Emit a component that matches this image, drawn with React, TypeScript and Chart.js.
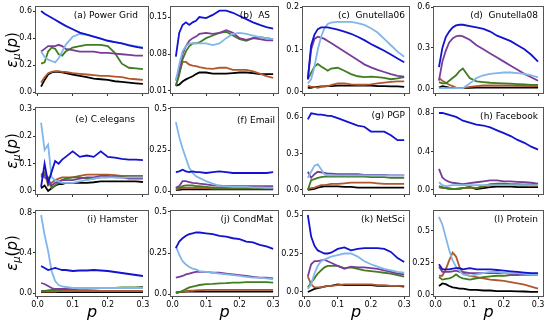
import React, { useEffect, useRef } from 'react';
import { Chart, registerables } from 'chart.js';

Chart.register(...registerables);
Chart.defaults.font.family = "'DejaVu Sans', sans-serif";

// sampled p values
const P = [0.01, 0.02, 0.03, 0.04, 0.05, 0.06, 0.07, 0.08, 0.10, 0.12, 0.14, 0.16, 0.18, 0.20, 0.22, 0.24, 0.26, 0.28, 0.30];
const X_TICKS = [0, 0.1, 0.2, 0.3];
const X_LABELS = ['0.0', '0.1', '0.2', '0.3'];

// (a) Power Grid
const A_BLUE = [0.6, 0.58, 0.565, 0.55, 0.535, 0.52, 0.505, 0.49, 0.465, 0.44, 0.425, 0.41, 0.395, 0.38, 0.37, 0.36, 0.345, 0.335, 0.325];
const A_LIGHT = [0.3, 0.26, 0.24, 0.23, 0.22, 0.25, 0.3, 0.35, 0.41, 0.43, 0.425, 0.41, 0.395, 0.38, 0.37, 0.36, 0.35, 0.34, 0.33];
const A_PURPLE = [0.3, 0.32, 0.34, 0.34, 0.34, 0.35, 0.34, 0.32, 0.31, 0.3, 0.3, 0.3, 0.29, 0.29, 0.285, 0.28, 0.275, 0.27, 0.27];
const A_GREEN = [0.21, 0.22, 0.3, 0.33, 0.32, 0.28, 0.27, 0.3, 0.33, 0.34, 0.35, 0.35, 0.35, 0.34, 0.29, 0.21, 0.18, 0.175, 0.17];
const A_BROWN = [0.07, 0.11, 0.14, 0.15, 0.155, 0.155, 0.15, 0.15, 0.14, 0.135, 0.13, 0.125, 0.12, 0.12, 0.115, 0.11, 0.1, 0.095, 0.09];
const A_BLACK = [0.04, 0.09, 0.13, 0.145, 0.15, 0.15, 0.145, 0.14, 0.13, 0.12, 0.11, 0.1, 0.095, 0.09, 0.08, 0.075, 0.07, 0.065, 0.06];
const A_YT = [0, 0.2, 0.4, 0.6];
const A_YL = ['0.0', '0.2', '0.4', '0.6'];

// (b) AS
const B_BLUE = [0.075, 0.12, 0.135, 0.14, 0.135, 0.14, 0.143, 0.15, 0.148, 0.154, 0.162, 0.162, 0.158, 0.152, 0.146, 0.14, 0.135, 0.131, 0.128];
const B_LIGHT = [0.03, 0.06, 0.085, 0.095, 0.1, 0.1, 0.1, 0.1, 0.1, 0.097, 0.1, 0.11, 0.118, 0.12, 0.118, 0.115, 0.112, 0.11, 0.108];
const B_PURPLE = [0.03, 0.05, 0.08, 0.095, 0.105, 0.11, 0.113, 0.118, 0.12, 0.118, 0.12, 0.125, 0.12, 0.11, 0.107, 0.11, 0.108, 0.106, 0.106];
const B_GREEN = [0.02, 0.04, 0.07, 0.085, 0.095, 0.1, 0.1, 0.102, 0.11, 0.115, 0.12, 0.122, 0.115, 0.108, 0.105, 0.11, 0.112, 0.11, 0.108];
const B_BROWN = [0.02, 0.045, 0.065, 0.065, 0.06, 0.058, 0.057, 0.055, 0.053, 0.052, 0.054, 0.054, 0.05, 0.05, 0.05, 0.047, 0.043, 0.038, 0.035];
const B_BLACK = [0.02, 0.022, 0.028, 0.032, 0.035, 0.038, 0.042, 0.045, 0.045, 0.043, 0.043, 0.043, 0.044, 0.045, 0.045, 0.044, 0.042, 0.042, 0.042];
const B_YT = [0.01, 0.08, 0.15];
const B_YL = ['0.01', '0.08', '0.15'];

// (c) Gnutella06
const C_BLUE = [0.03, 0.11, 0.135, 0.148, 0.152, 0.152, 0.152, 0.15, 0.147, 0.142, 0.137, 0.13, 0.122, 0.113, 0.105, 0.097, 0.088, 0.079, 0.07];
const C_LIGHT = [0.02, 0.03, 0.06, 0.1, 0.13, 0.15, 0.16, 0.163, 0.165, 0.165, 0.165, 0.162, 0.158, 0.15, 0.14, 0.125, 0.11, 0.095, 0.083];
const C_PURPLE = [0.03, 0.1, 0.125, 0.13, 0.128, 0.125, 0.12, 0.115, 0.105, 0.095, 0.085, 0.075, 0.065, 0.058, 0.052, 0.047, 0.042, 0.038, 0.036];
const C_GREEN = [0.03, 0.045, 0.06, 0.066, 0.06, 0.055, 0.05, 0.055, 0.057, 0.05, 0.042, 0.037, 0.035, 0.036, 0.035, 0.033, 0.03, 0.032, 0.035];
const C_BROWN = [0.015, 0.012, 0.012, 0.01, 0.012, 0.013, 0.014, 0.016, 0.02, 0.02, 0.018, 0.017, 0.017, 0.018, 0.02, 0.022, 0.024, 0.025, 0.025];
const C_BLACK = [0.01, 0.01, 0.012, 0.012, 0.013, 0.013, 0.014, 0.014, 0.015, 0.015, 0.015, 0.015, 0.015, 0.015, 0.014, 0.014, 0.013, 0.013, 0.012];
const C_YT = [0, 0.1, 0.2];
const C_YL = ['0.0', '0.1', '0.2'];

// (d) Gnutella08
const D_BLUE = [0.16, 0.3, 0.38, 0.42, 0.45, 0.465, 0.47, 0.47, 0.46, 0.45, 0.44, 0.42, 0.39, 0.37, 0.35, 0.32, 0.29, 0.25, 0.2];
const D_LIGHT = [0.005, 0.005, 0.005, 0.005, 0.005, 0.005, 0.005, 0.005, 0.04, 0.08, 0.1, 0.11, 0.115, 0.12, 0.12, 0.115, 0.11, 0.1, 0.085];
const D_PURPLE = [0.06, 0.2, 0.28, 0.34, 0.37, 0.385, 0.39, 0.385, 0.36, 0.32, 0.29, 0.26, 0.23, 0.2, 0.17, 0.14, 0.11, 0.085, 0.06];
const D_GREEN = [0.05, 0.04, 0.04, 0.06, 0.08, 0.1, 0.13, 0.15, 0.08, 0.055, 0.05, 0.045, 0.043, 0.04, 0.038, 0.035, 0.033, 0.03, 0.03];
const D_BROWN = [0.08, 0.06, 0.045, 0.03, 0.02, 0.01, 0.005, 0.005, 0.015, 0.02, 0.025, 0.025, 0.025, 0.025, 0.025, 0.023, 0.022, 0.02, 0.02];
const D_BLACK = [0.01, 0.02, 0.015, 0.01, 0.008, 0.005, 0.005, 0.005, 0.008, 0.01, 0.01, 0.01, 0.01, 0.01, 0.01, 0.01, 0.01, 0.01, 0.01];
const D_YT = [0, 0.3, 0.6];
const D_YL = ['0.0', '0.3', '0.6'];

// (e) C.elegans
const E_BLUE = [0.015, 0.1, 0.03, 0.07, 0.11, 0.1, 0.115, 0.125, 0.145, 0.125, 0.13, 0.125, 0.145, 0.125, 0.122, 0.118, 0.115, 0.115, 0.113];
const E_LIGHT = [0.25, 0.15, 0.17, 0.05, 0.04, 0.035, 0.03, 0.03, 0.03, 0.035, 0.04, 0.045, 0.05, 0.05, 0.05, 0.048, 0.05, 0.05, 0.05];
const E_PURPLE = [0.06, 0.05, 0.04, 0.02, 0.03, 0.035, 0.04, 0.04, 0.04, 0.045, 0.05, 0.05, 0.055, 0.055, 0.05, 0.05, 0.045, 0.045, 0.045];
const E_GREEN = [0.05, 0.06, 0.05, 0.01, 0.02, 0.03, 0.04, 0.045, 0.05, 0.05, 0.045, 0.045, 0.05, 0.05, 0.055, 0.05, 0.05, 0.05, 0.05];
const E_BROWN = [0.06, 0.07, 0.02, 0.03, 0.04, 0.045, 0.05, 0.05, 0.05, 0.055, 0.06, 0.06, 0.06, 0.06, 0.058, 0.055, 0.055, 0.055, 0.055];
const E_BLACK = [0.01, 0.02, 0.0, 0.01, 0.02, 0.025, 0.025, 0.03, 0.03, 0.03, 0.03, 0.032, 0.035, 0.035, 0.035, 0.035, 0.035, 0.035, 0.033];
const E_YT = [0, 0.1, 0.2, 0.3];
const E_YL = ['0.0', '0.1', '0.2', '0.3'];

// (f) Email
const F_BLUE = [0.115, 0.12, 0.13, 0.12, 0.115, 0.12, 0.115, 0.115, 0.11, 0.115, 0.12, 0.115, 0.11, 0.11, 0.11, 0.11, 0.11, 0.11, 0.115];
const F_LIGHT = [0.42, 0.33, 0.26, 0.2, 0.14, 0.11, 0.09, 0.08, 0.06, 0.045, 0.032, 0.028, 0.025, 0.025, 0.025, 0.022, 0.022, 0.02, 0.02];
const F_PURPLE = [0.02, 0.03, 0.06, 0.06, 0.055, 0.05, 0.048, 0.045, 0.04, 0.035, 0.033, 0.03, 0.03, 0.03, 0.03, 0.03, 0.03, 0.03, 0.03];
const F_GREEN = [0.02, 0.02, 0.03, 0.035, 0.035, 0.035, 0.03, 0.03, 0.025, 0.02, 0.02, 0.02, 0.02, 0.02, 0.02, 0.02, 0.02, 0.02, 0.02];
const F_BROWN = [0.01, 0.015, 0.02, 0.02, 0.02, 0.02, 0.02, 0.02, 0.018, 0.015, 0.015, 0.015, 0.015, 0.015, 0.015, 0.015, 0.015, 0.015, 0.015];
const F_BLACK = [0.005, 0.008, 0.01, 0.01, 0.01, 0.01, 0.01, 0.01, 0.01, 0.01, 0.01, 0.01, 0.01, 0.01, 0.01, 0.01, 0.01, 0.01, 0.01];
const F_YT = [0, 0.25, 0.5];
const F_YL = ['0.0', '0.25', '0.5'];

// (g) PGP
const G_BLUE = [0.58, 0.63, 0.625, 0.62, 0.62, 0.615, 0.61, 0.61, 0.59, 0.57, 0.55, 0.53, 0.52, 0.48, 0.48, 0.48, 0.45, 0.41, 0.41];
const G_LIGHT = [0.1, 0.15, 0.2, 0.21, 0.17, 0.13, 0.12, 0.12, 0.12, 0.12, 0.12, 0.12, 0.12, 0.12, 0.12, 0.12, 0.12, 0.12, 0.12];
const G_PURPLE = [0.15, 0.1, 0.13, 0.15, 0.145, 0.14, 0.135, 0.135, 0.13, 0.13, 0.13, 0.13, 0.125, 0.125, 0.125, 0.125, 0.12, 0.12, 0.12];
const G_GREEN = [0.0, 0.08, 0.09, 0.1, 0.105, 0.11, 0.11, 0.11, 0.11, 0.11, 0.11, 0.11, 0.11, 0.105, 0.105, 0.105, 0.1, 0.1, 0.1];
const G_BROWN = [0.01, 0.015, 0.02, 0.03, 0.04, 0.04, 0.045, 0.05, 0.05, 0.055, 0.06, 0.06, 0.06, 0.06, 0.055, 0.05, 0.05, 0.05, 0.05];
const G_BLACK = [0.0, 0.005, 0.01, 0.02, 0.025, 0.03, 0.03, 0.03, 0.03, 0.025, 0.025, 0.02, 0.02, 0.02, 0.02, 0.02, 0.02, 0.02, 0.02];
const G_YT = [0, 0.3, 0.6];
const G_YL = ['0.0', '0.3', '0.6'];

// (h) Facebook
const H_BLUE = [0.8, 0.8, 0.79, 0.78, 0.77, 0.76, 0.74, 0.72, 0.7, 0.68, 0.67, 0.65, 0.62, 0.59, 0.56, 0.52, 0.49, 0.45, 0.42];
const H_LIGHT = [0.08, 0.05, 0.04, 0.045, 0.05, 0.05, 0.05, 0.05, 0.05, 0.05, 0.05, 0.05, 0.05, 0.05, 0.05, 0.05, 0.05, 0.05, 0.05];
const H_PURPLE = [0.22, 0.13, 0.1, 0.085, 0.075, 0.07, 0.065, 0.06, 0.07, 0.08, 0.09, 0.1, 0.1, 0.09, 0.09, 0.085, 0.08, 0.075, 0.065];
const H_GREEN = [0.04, 0.03, 0.02, 0.015, 0.01, 0.01, 0.015, 0.02, 0.03, 0.02, 0.04, 0.06, 0.065, 0.065, 0.06, 0.06, 0.055, 0.055, 0.05];
const H_BROWN = [0.03, 0.025, 0.02, 0.015, 0.01, 0.01, 0.015, 0.02, 0.025, 0.02, 0.035, 0.05, 0.055, 0.055, 0.05, 0.05, 0.05, 0.045, 0.045];
const H_BLACK = [0.03, 0.025, 0.02, 0.015, 0.01, 0.01, 0.015, 0.02, 0.03, 0.01, 0.02, 0.03, 0.035, 0.035, 0.035, 0.03, 0.03, 0.03, 0.03];
const H_YT = [0, 0.4, 0.8];
const H_YL = ['0.0', '0.4', '0.8'];

// (i) Hamster
const I_BLUE = [0.27, 0.25, 0.23, 0.24, 0.25, 0.24, 0.23, 0.23, 0.22, 0.225, 0.225, 0.23, 0.225, 0.22, 0.21, 0.2, 0.19, 0.18, 0.17];
const I_LIGHT = [0.78, 0.58, 0.42, 0.22, 0.12, 0.08, 0.065, 0.06, 0.05, 0.05, 0.05, 0.05, 0.05, 0.05, 0.05, 0.05, 0.05, 0.05, 0.05];
const I_PURPLE = [0.1, 0.09, 0.07, 0.05, 0.04, 0.04, 0.04, 0.04, 0.04, 0.045, 0.045, 0.045, 0.05, 0.05, 0.05, 0.05, 0.05, 0.05, 0.055];
const I_GREEN = [0.02, 0.02, 0.025, 0.03, 0.03, 0.035, 0.035, 0.04, 0.04, 0.045, 0.045, 0.05, 0.05, 0.05, 0.05, 0.055, 0.055, 0.055, 0.06];
const I_BROWN = [0.015, 0.015, 0.015, 0.015, 0.015, 0.02, 0.02, 0.02, 0.02, 0.02, 0.02, 0.02, 0.02, 0.02, 0.02, 0.02, 0.02, 0.02, 0.02];
const I_BLACK = [0.01, 0.01, 0.01, 0.01, 0.01, 0.01, 0.01, 0.01, 0.01, 0.01, 0.01, 0.01, 0.01, 0.01, 0.01, 0.01, 0.01, 0.01, 0.01];
const I_YT = [0, 0.4, 0.8];
const I_YL = ['0.0', '0.4', '0.8'];

// (j) CondMat
const J_BLUE = [0.28, 0.32, 0.34, 0.355, 0.365, 0.37, 0.375, 0.375, 0.37, 0.365, 0.355, 0.35, 0.34, 0.335, 0.32, 0.315, 0.3, 0.29, 0.275];
const J_LIGHT = [0.29, 0.24, 0.2, 0.18, 0.165, 0.155, 0.15, 0.14, 0.135, 0.13, 0.125, 0.12, 0.115, 0.11, 0.105, 0.1, 0.1, 0.095, 0.09];
const J_PURPLE = [0.1, 0.105, 0.11, 0.12, 0.125, 0.13, 0.135, 0.135, 0.135, 0.13, 0.13, 0.125, 0.12, 0.115, 0.11, 0.105, 0.1, 0.1, 0.095];
const J_GREEN = [0.005, 0.01, 0.02, 0.03, 0.04, 0.045, 0.05, 0.055, 0.06, 0.062, 0.065, 0.067, 0.07, 0.07, 0.072, 0.073, 0.073, 0.072, 0.07];
const J_BROWN = [0.01, 0.012, 0.015, 0.017, 0.02, 0.02, 0.022, 0.023, 0.025, 0.025, 0.025, 0.025, 0.025, 0.025, 0.025, 0.025, 0.025, 0.025, 0.025];
const J_BLACK = [0.01, 0.012, 0.013, 0.015, 0.015, 0.015, 0.015, 0.015, 0.015, 0.015, 0.015, 0.015, 0.015, 0.015, 0.015, 0.015, 0.015, 0.015, 0.015];
const J_YT = [0, 0.25, 0.5];
const J_YL = ['0.0', '0.25', '0.5'];

// (k) NetSci
const K_BLUE = [0.5, 0.36, 0.3, 0.27, 0.26, 0.25, 0.25, 0.255, 0.28, 0.29, 0.27, 0.28, 0.285, 0.285, 0.285, 0.28, 0.26, 0.22, 0.195];
const K_LIGHT = [0.02, 0.05, 0.12, 0.17, 0.2, 0.21, 0.22, 0.23, 0.24, 0.25, 0.25, 0.23, 0.2, 0.18, 0.165, 0.15, 0.14, 0.13, 0.125];
const K_PURPLE = [0.1, 0.18, 0.2, 0.2, 0.205, 0.21, 0.2, 0.19, 0.17, 0.15, 0.165, 0.16, 0.16, 0.155, 0.15, 0.14, 0.13, 0.12, 0.115];
const K_GREEN = [0.03, 0.06, 0.09, 0.12, 0.14, 0.16, 0.17, 0.17, 0.17, 0.155, 0.16, 0.15, 0.14, 0.135, 0.13, 0.125, 0.12, 0.11, 0.1];
const K_BROWN = [0.1, 0.05, 0.03, 0.03, 0.03, 0.035, 0.04, 0.04, 0.045, 0.05, 0.05, 0.05, 0.05, 0.05, 0.045, 0.045, 0.04, 0.04, 0.04];
const K_BLACK = [0.0, 0.01, 0.02, 0.025, 0.03, 0.035, 0.04, 0.04, 0.05, 0.045, 0.045, 0.045, 0.045, 0.045, 0.04, 0.04, 0.04, 0.04, 0.035];
const K_YT = [0, 0.25, 0.5];
const K_YL = ['0.0', '0.25', '0.5'];

// (l) Protein
const L_BLUE = [0.24, 0.2, 0.2, 0.2, 0.205, 0.21, 0.21, 0.2, 0.21, 0.2, 0.2, 0.2, 0.195, 0.19, 0.185, 0.18, 0.175, 0.17, 0.17];
const L_LIGHT = [0.61, 0.55, 0.45, 0.35, 0.27, 0.22, 0.19, 0.16, 0.15, 0.16, 0.17, 0.18, 0.18, 0.17, 0.17, 0.17, 0.165, 0.16, 0.16];
const L_PURPLE = [0.22, 0.18, 0.18, 0.18, 0.185, 0.19, 0.18, 0.18, 0.17, 0.17, 0.17, 0.17, 0.17, 0.17, 0.165, 0.165, 0.16, 0.16, 0.16];
const L_GREEN = [0.14, 0.12, 0.125, 0.13, 0.14, 0.16, 0.14, 0.13, 0.12, 0.13, 0.14, 0.145, 0.15, 0.15, 0.155, 0.155, 0.16, 0.16, 0.16];
const L_BROWN = [0.15, 0.15, 0.2, 0.27, 0.33, 0.3, 0.22, 0.17, 0.15, 0.14, 0.13, 0.12, 0.115, 0.11, 0.1, 0.09, 0.08, 0.065, 0.05];
const L_BLACK = [0.07, 0.09, 0.085, 0.07, 0.06, 0.055, 0.05, 0.05, 0.04, 0.04, 0.035, 0.035, 0.03, 0.03, 0.03, 0.028, 0.027, 0.025, 0.025];
const L_YT = [0, 0.25, 0.5];
const L_YL = ['0.0', '0.25', '0.5'];

const TITLES = ['(a) Power Grid', '(b)  AS', '(c)  Gnutella06', '(d)  Gnutella08', '(e) C.elegans', '(f) Email', '(g) PGP', '(h) Facebook', '(i) Hamster', '(j) CondMat', '(k) NetSci', '(l) Protein'];

const SERIES_KEYS = ['blue', 'light', 'purple', 'green', 'brown', 'black'];
const SERIES_COLORS = ['#1212cf', '#80b6ea', '#7a3c9a', '#3f7d20', '#b0582c', '#000000'];

const PANELS = [
  { s: [A_BLUE, A_LIGHT, A_PURPLE, A_GREEN, A_BROWN, A_BLACK], yMin: -0.007, yMax: 0.63, yt: A_YT, yl: A_YL, inset: 10, dy: 9 },
  { s: [B_BLUE, B_LIGHT, B_PURPLE, B_GREEN, B_BROWN, B_BLACK], yMin: 0.0062, yMax: 0.169, yt: B_YT, yl: B_YL, inset: 8, dy: 9 },
  { s: [C_BLUE, C_LIGHT, C_PURPLE, C_GREEN, C_BROWN, C_BLACK], yMin: -0.0024, yMax: 0.2, yt: C_YT, yl: C_YL, inset: 4, dy: 9 },
  { s: [D_BLUE, D_LIGHT, D_PURPLE, D_GREEN, D_BROWN, D_BLACK], yMin: -0.03, yMax: 0.6, yt: D_YT, yl: D_YL, inset: 5, dy: 9 },
  { s: [E_BLUE, E_LIGHT, E_PURPLE, E_GREEN, E_BROWN, E_BLACK], yMin: -0.011, yMax: 0.304, yt: E_YT, yl: E_YL, inset: 13, dy: 12 },
  { s: [F_BLUE, F_LIGHT, F_PURPLE, F_GREEN, F_BROWN, F_BLACK], yMin: -0.018, yMax: 0.506, yt: F_YT, yl: F_YL, inset: 3, dy: 13 },
  { s: [G_BLUE, G_LIGHT, G_PURPLE, G_GREEN, G_BROWN, G_BLACK], yMin: -0.033, yMax: 0.674, yt: G_YT, yl: G_YL, inset: 4, dy: 8 },
  { s: [H_BLUE, H_LIGHT, H_PURPLE, H_GREEN, H_BROWN, H_BLACK], yMin: -0.042, yMax: 0.852, yt: H_YT, yl: H_YL, inset: 5, dy: 9 },
  { s: [I_BLUE, I_LIGHT, I_PURPLE, I_GREEN, I_BROWN, I_BLACK], yMin: -0.03, yMax: 0.82, yt: I_YT, yl: I_YL, inset: 10, dy: 9 },
  { s: [J_BLUE, J_LIGHT, J_PURPLE, J_GREEN, J_BROWN, J_BLACK], yMin: -0.012, yMax: 0.506, yt: J_YT, yl: J_YL, inset: 5, dy: 9 },
  { s: [K_BLUE, K_LIGHT, K_PURPLE, K_GREEN, K_BROWN, K_BLACK], yMin: -0.026, yMax: 0.526, yt: K_YT, yl: K_YL, inset: 4, dy: 9 },
  { s: [L_BLUE, L_LIGHT, L_PURPLE, L_GREEN, L_BROWN, L_BLACK], yMin: -0.008, yMax: 0.656, yt: L_YT, yl: L_YL, inset: 5, dy: 9 },
];

const COL_L = [36, 171, 303, 434];
const COL_R = [148, 278, 409, 543];
const ROW_T = [7, 108, 211];
const ROW_B = [93, 194, 296];

const PAD_L = 40;
const PAD_T = 8;
const PAD_R = 8;

const framePlugin = {
  id: 'frame',
  afterDraw(chart: any, _args: any, opts: any) {
    const { ctx, chartArea: a } = chart;
    ctx.save();
    ctx.strokeStyle = '#555555';
    ctx.lineWidth = 1;
    ctx.strokeRect(Math.round(a.left) - 0.5, Math.round(a.top) - 0.5, Math.round(a.right - a.left) + 1, Math.round(a.bottom - a.top) + 1);
    ctx.font = "9px 'DejaVu Sans', sans-serif";
    ctx.fillStyle = '#000';
    ctx.textAlign = 'right';
    ctx.textBaseline = 'middle';
    ctx.fillText(opts.title, a.right - opts.inset, a.top + opts.dy);
    ctx.restore();
  },
};

function Panel({ idx }: { idx: number }) {
  const ref = useRef<HTMLCanvasElement | null>(null);
  const col = idx % 4;
  const row = Math.floor(idx / 4);
  const def = PANELS[idx];
  const fw = COL_R[col] - COL_L[col];
  const fh = ROW_B[row] - ROW_T[row];
  const bottom = row === 2 ? 18 : 8;
  const W = fw + PAD_L + PAD_R;
  const H = fh + PAD_T + bottom;

  useEffect(() => {
    if (!ref.current) return;
    const datasets = SERIES_KEYS.map((k, si) => ({
      label: k,
      data: P.map((x, i) => ({ x, y: def.s[si][i] })),
      borderColor: SERIES_COLORS[si],
      backgroundColor: SERIES_COLORS[si],
      borderWidth: 1.8,
      pointRadius: 0,
      tension: 0,
      fill: false,
    }));
    const chart = new Chart(ref.current, {
      type: 'line',
      data: { datasets },
      options: {
        responsive: false,
        animation: false,
        devicePixelRatio: 1,
        layout: { padding: { top: PAD_T, right: PAD_R, left: 0, bottom: 0 } },
        plugins: {
          legend: { display: false },
          tooltip: { enabled: false },
          frame: { title: TITLES[idx], inset: def.inset, dy: def.dy },
        } as any,
        scales: {
          x: {
            type: 'linear',
            min: -0.0045,
            max: 0.3145,
            afterBuildTicks: (s: any) => {
              s.ticks = X_TICKS.map((v) => ({ value: v }));
            },
            afterFit: (s: any) => {
              s.height = bottom;
              s.paddingLeft = 0;
              s.paddingRight = 0;
            },
            ticks: {
              autoSkip: false,
              maxRotation: 0,
              padding: 1,
              color: '#000',
              font: { size: 8 },
              callback: (_v: any, i: number) => (row === 2 ? X_LABELS[i] : ''),
            },
            grid: { display: true, drawOnChartArea: false, drawTicks: true, tickLength: 3, color: '#333' },
            border: { display: false },
          },
          y: {
            type: 'linear',
            min: def.yMin,
            max: def.yMax,
            afterBuildTicks: (s: any) => {
              s.ticks = def.yt.map((v) => ({ value: v }));
            },
            afterFit: (s: any) => {
              s.width = PAD_L;
              s.paddingTop = 0;
              s.paddingBottom = 0;
            },
            ticks: {
              autoSkip: false,
              padding: 1,
              color: '#000',
              font: { size: 8 },
              callback: (_v: any, i: number) => def.yl[i],
            },
            grid: { display: true, drawOnChartArea: false, drawTicks: true, tickLength: 3, color: '#333' },
            border: { display: false },
          },
        },
      } as any,
      plugins: [framePlugin],
    });
    return () => chart.destroy();
  }, []);

  return (
    <canvas
      ref={ref}
      width={W}
      height={H}
      style={{ position: 'absolute', left: COL_L[col] - PAD_L, top: ROW_T[row] - PAD_T, width: W, height: H }}
    />
  );
}

const Y_LABEL_Y = [50, 151, 253];
const COL_CENTER = [92, 224.5, 356, 488.5];

function YLabel({ y }: { y: number }) {
  return (
    <div
      style={{
        position: 'absolute',
        left: 12,
        top: y,
        transform: 'translate(-50%, -50%) rotate(-90deg)',
        whiteSpace: 'nowrap',
        fontFamily: "'DejaVu Sans', sans-serif",
        fontSize: 15,
        lineHeight: 1,
        color: '#000',
      }}
    >
      <span style={{ fontStyle: 'italic' }}>ε</span>
      <span style={{ fontStyle: 'italic', fontSize: 10, position: 'relative', top: 3 }}>μ</span>
      <span>(</span>
      <span style={{ fontStyle: 'italic' }}>p</span>
      <span>)</span>
    </div>
  );
}

export default function App() {
  return (
    <div style={{ position: 'absolute', left: 0, top: 0, width: 550, height: 327, background: '#fff', overflow: 'hidden' }}>
      {PANELS.map((_, i) => (
        <Panel key={i} idx={i} />
      ))}
      {Y_LABEL_Y.map((y, i) => (
        <YLabel key={i} y={y} />
      ))}
      {COL_CENTER.map((x, i) => (
        <div
          key={i}
          style={{
            position: 'absolute',
            left: x,
            top: 304,
            transform: 'translateX(-50%)',
            fontFamily: "'DejaVu Sans', sans-serif",
            fontStyle: 'italic',
            fontSize: 16,
            lineHeight: 1,
            color: '#000',
          }}
        >
          p
        </div>
      ))}
    </div>
  );
}
